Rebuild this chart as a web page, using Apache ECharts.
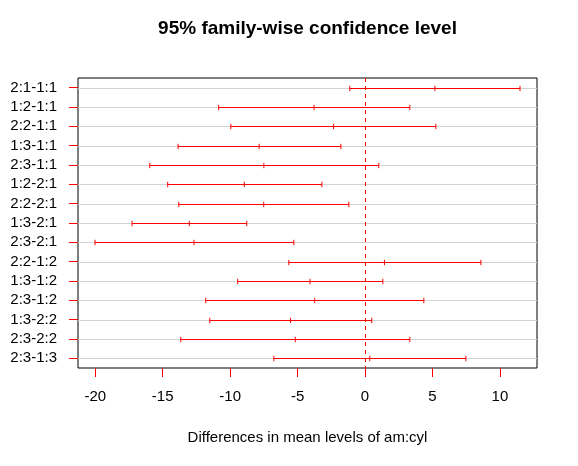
<!DOCTYPE html>
<html>
<head>
<meta charset="UTF-8">
<title>95% family-wise confidence level</title>
<script src="https://cdn.jsdelivr.net/npm/echarts@6/dist/echarts.min.js"></script>
<style>
  html, body { margin: 0; padding: 0; background: #fff; }
  #main { width: 578px; height: 466px; }
</style>
</head>
<body>
<div id="main"></div>
<script>
// comparisons, top to bottom
var comparisons = ['2:1-1:1', '1:2-1:1', '2:2-1:1', '1:3-1:1', '2:3-1:1',
  '1:2-2:1', '2:2-2:1', '1:3-2:1', '2:3-2:1', '2:2-1:2',
  '1:3-1:2', '2:3-1:2', '1:3-2:2', '2:3-2:2', '2:3-1:3'];
// lower bound, difference, upper bound
var lwr = [-1.13, -10.85, -9.95, -13.86, -15.96, -14.63, -13.81, -17.27, -20.02, -5.65, -9.44, -11.81, -11.51, -13.66, -6.76];
var diff = [5.18, -3.78, -2.33, -7.85, -7.50, -8.95, -7.51, -13.03, -12.68, 1.44, -4.08, -3.73, -5.52, -5.17, 0.35];
var upr = [11.49, 3.32, 5.25, -1.79, 1.02, -3.20, -1.20, -8.77, -5.28, 8.59, 1.32, 4.36, 0.50, 3.32, 7.48];
var xTicks = [-20, -15, -10, -5, 0, 5, 10];

var FONT = 'Liberation Sans, Arial, sans-serif';
var RED = '#ff0000';

var rows = [];
for (var i = 0; i < comparisons.length; i++) {
  rows.push([i, lwr[i], diff[i], upr[i]]);
}

var chart = echarts.init(document.getElementById('main'));

function renderItem(params, api) {
  var row = api.value(0);
  var a = api.coord([api.value(1), row]);
  var m = api.coord([api.value(2), row]);
  var b = api.coord([api.value(3), row]);
  var cs = params.coordSys;
  var y = Math.round(a[1]) + 0.5;
  var h = 2.7;
  var red = { stroke: RED, lineWidth: 1 };
  return {
    type: 'group',
    children: [
      // light grey row line across the box
      { type: 'line', shape: { x1: cs.x, y1: y, x2: cs.x + cs.width, y2: y },
        style: { stroke: '#d3d3d3', lineWidth: 1 } },
      { type: 'line', shape: { x1: a[0], y1: y, x2: b[0], y2: y }, style: red },
      { type: 'line', shape: { x1: a[0], y1: y - h, x2: a[0], y2: y + h }, style: red },
      { type: 'line', shape: { x1: m[0], y1: y - h, x2: m[0], y2: y + h }, style: red },
      { type: 'line', shape: { x1: b[0], y1: y - h, x2: b[0], y2: y + h }, style: red }
    ]
  };
}

var option = {
  backgroundColor: '#fff',
  animation: false,
  title: {
    text: '95% family-wise confidence level',
    left: 307.5,
    textAlign: 'center',
    top: 19,
    padding: 0,
    textStyle: { fontFamily: FONT, fontSize: 19, fontWeight: 'bold', color: '#000' }
  },
  grid: {
    left: 78, right: 41, top: 78, bottom: 98,
    show: true, borderColor: '#000', borderWidth: 1, backgroundColor: 'transparent'
  },
  xAxis: {
    type: 'value',
    min: -21.28,
    max: 12.75,
    name: 'Differences in mean levels of am:cyl',
    nameLocation: 'middle',
    nameGap: 62,
    nameTextStyle: { fontFamily: FONT, fontSize: 15, color: '#000' },
    axisLine: { show: false, onZero: false },
    splitLine: { show: false },
    axisTick: { show: true, length: 9, customValues: xTicks, lineStyle: { color: RED, width: 1 } },
    axisLabel: { customValues: xTicks, margin: 21, fontFamily: FONT, fontSize: 15, color: '#000' }
  },
  yAxis: {
    type: 'category',
    data: comparisons,
    inverse: true,
    boundaryGap: true,
    position: 'left',
    axisLine: { show: false, onZero: false },
    splitLine: { show: false },
    axisTick: { show: true, length: 9, interval: 0, alignWithLabel: true, lineStyle: { color: RED, width: 1 } },
    axisLabel: { interval: 0, margin: 21, fontFamily: FONT, fontSize: 15, color: '#000' }
  },
  series: [{
    type: 'custom',
    renderItem: renderItem,
    encode: { x: [1, 2, 3], y: 0 },
    data: rows,
    markLine: {
      silent: true,
      symbol: 'none',
      label: { show: false },
      lineStyle: { color: RED, width: 1, type: [4, 4] },
      data: [{ xAxis: 0 }]
    }
  }]
};

chart.setOption(option);
</script>
</body>
</html>
